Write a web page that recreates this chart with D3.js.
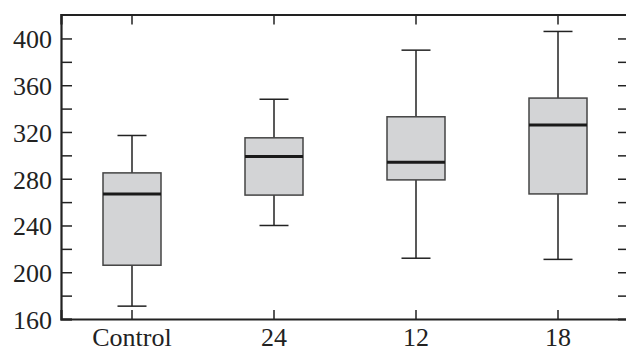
<!DOCTYPE html>
<html>
<head>
<meta charset="utf-8">
<script src="https://cdn.jsdelivr.net/npm/d3@7"></script>
<style>
  body { margin: 0; background: #fff; }
  svg { display: block; }
  text { font-family: "Liberation Serif", "Times New Roman", serif; fill: #222; }
</style>
</head>
<body>
<div id="chart"></div>
<script>
// groups and box stats
const groups = ["Control", "24", "12", "18"];
const whiskerLow = [171, 240, 212, 211];
const q1 = [206, 266, 279, 267];
const median = [267, 299, 294, 326];
const q3 = [285, 315, 333, 349];
const whiskerHigh = [317, 348, 390, 406];
const yTicks = [160, 200, 240, 280, 320, 360, 400];
const yMinor = [180, 220, 260, 300, 340, 380];

const width = 626, height = 351;
const margin = { top: 14.5, right: -3, bottom: 32, left: 61 };
const plotW = width - margin.left - margin.right;
const plotH = height - margin.top - margin.bottom;

const svg = d3.select("#chart").append("svg")
  .attr("width", width)
  .attr("height", height);

const g = svg.append("g")
  .attr("transform", `translate(${margin.left},${margin.top})`);

const x = d3.scaleBand().domain(groups).range([0, plotW]).padding(0);
const y = d3.scaleLinear().domain([160, 420.5]).range([plotH, 0]);

const data = groups.map((name, i) => ({
  name, lo: whiskerLow[i], q1: q1[i], med: median[i], q3: q3[i], hi: whiskerHigh[i]
}));

const boxW = 58, capW = 29;
const ink = "#222";

// boxes
const box = g.selectAll(".box").data(data).enter().append("g")
  .attr("transform", d => `translate(${x(d.name) + x.bandwidth() / 2},0)`);

box.append("line")
  .attr("y1", d => y(d.hi)).attr("y2", d => y(d.q3))
  .attr("stroke", ink).attr("stroke-width", 1.5);
box.append("line")
  .attr("y1", d => y(d.q1)).attr("y2", d => y(d.lo))
  .attr("stroke", ink).attr("stroke-width", 1.5);
box.append("line")
  .attr("x1", -capW / 2).attr("x2", capW / 2)
  .attr("y1", d => y(d.hi)).attr("y2", d => y(d.hi))
  .attr("stroke", ink).attr("stroke-width", 1.5);
box.append("line")
  .attr("x1", -capW / 2).attr("x2", capW / 2)
  .attr("y1", d => y(d.lo)).attr("y2", d => y(d.lo))
  .attr("stroke", ink).attr("stroke-width", 1.5);
box.append("rect")
  .attr("x", -boxW / 2).attr("width", boxW)
  .attr("y", d => y(d.q3)).attr("height", d => y(d.q1) - y(d.q3))
  .attr("fill", "#d3d4d6").attr("stroke", "#444").attr("stroke-width", 1.5);
box.append("line")
  .attr("x1", -boxW / 2).attr("x2", boxW / 2)
  .attr("y1", d => y(d.med)).attr("y2", d => y(d.med))
  .attr("stroke", "#1a1a1a").attr("stroke-width", 3);

// axes: ticks point inward on all four sides
const leftAxis = g.append("g").call(d3.axisLeft(y).tickValues(yTicks.concat(yMinor)).tickSize(-11)
  .tickFormat(d => yTicks.includes(d) ? d : ""));
const rightAxis = g.append("g").attr("transform", `translate(${plotW},0)`)
  .call(d3.axisRight(y).tickValues(yTicks.concat(yMinor).filter(d => d > 160)).tickSize(-11).tickFormat(""));
const bottomAxis = g.append("g").attr("transform", `translate(0,${plotH})`)
  .call(d3.axisBottom(x).tickSize(-9));
const topAxis = g.append("g").call(d3.axisTop(x).tickSize(-10).tickFormat(""));

[leftAxis, rightAxis, bottomAxis, topAxis].forEach(a => {
  a.attr("font-family", '"Liberation Serif", serif').attr("font-size", 26);
  a.select(".domain").attr("stroke", ink).attr("stroke-width", 2.2);
  a.selectAll(".tick line").attr("stroke", ink).attr("stroke-width", 1.5);
  a.selectAll(".tick text").attr("fill", "#222");
});
leftAxis.selectAll(".tick text").attr("x", -9).attr("dy", "0.36em");
bottomAxis.selectAll(".tick text").attr("y", 9).attr("dy", "0.7em");
</script>
</body>
</html>
